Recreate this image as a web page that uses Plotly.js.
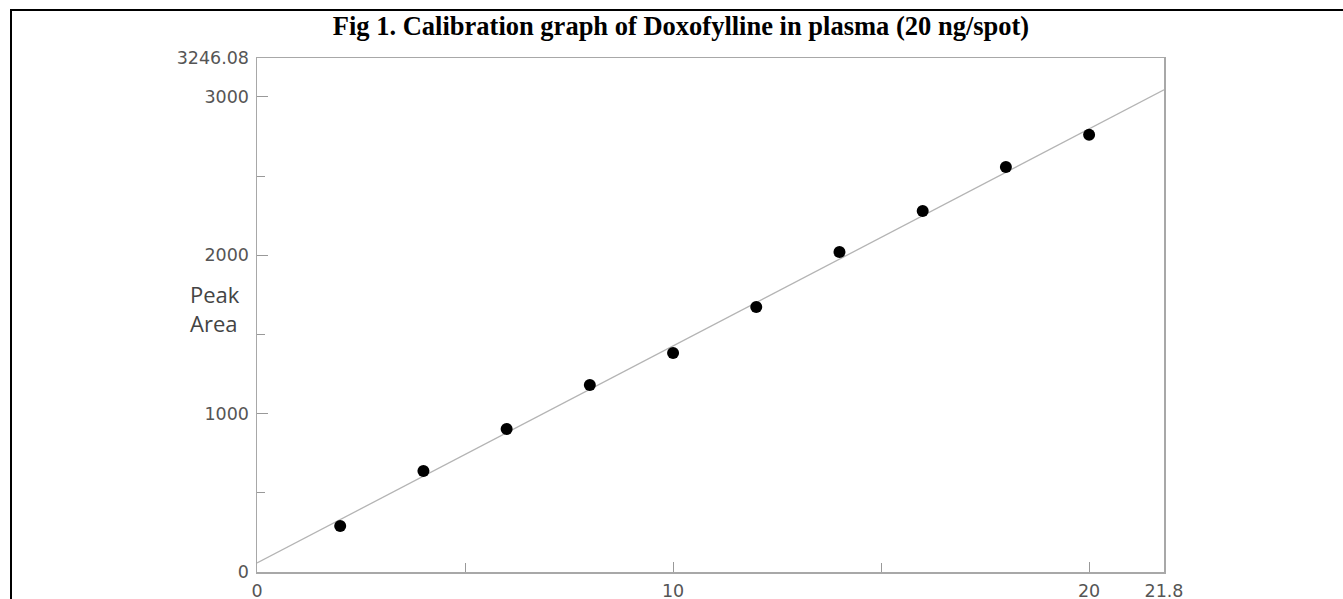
<!DOCTYPE html>
<html>
<head>
<meta charset="utf-8">
<script src="https://cdn.plot.ly/plotly-3.0.1.min.js"></script>
<style>
html,body{margin:0;padding:0;background:#fff;}
#chart{width:1343px;height:599px;}
</style>
</head>
<body>
<div id="chart"></div>
<script>
// Data
const concentration = [2, 4, 6, 8, 10, 12, 14, 16, 18, 20];
const peakArea = [291, 638, 903, 1181, 1383, 1674, 2021, 2280, 2558, 2761];
// Calibration line end points
const lineX = [0, 21.8];
const lineY = [57, 3045];
// Axis ticks
const xTickVals = [0, 10, 20, 21.8];
const xTickText = ['0', '10', '20', '21.8'];
const yTickVals = [0, 1000, 2000, 3000, 3246.08];
const yTickText = ['0', '1000', '2000', '3000', '3246.08'];
const xMinorTicks = [5, 15];
const yMinorTicks = [500, 1500, 2500];
const xRange = [0, 21.8];
const yRange = [0, 3246.08];
const titleText = 'Fig 1. Calibration graph of Doxofylline in plasma (20 ng/spot)';
const yLabel = 'Peak<br>Area';

const W = 1343, H = 599;
const M = {l: 257, r: 179, t: 58, b: 27};
const pw = W - M.l - M.r, ph = H - M.t - M.b;
const px2x = p => (p - M.l) / pw;
const py2y = p => (H - M.b - p) / ph;

const traces = [
  {
    x: lineX, y: lineY, mode: 'lines', type: 'scatter',
    line: {color: '#b4b4b4', width: 1.3}, hoverinfo: 'skip', showlegend: false
  },
  {
    x: concentration, y: peakArea, mode: 'markers', type: 'scatter',
    marker: {color: '#000', size: 12}, showlegend: false
  }
];

const tickFont = {family: 'DejaVu Sans, Arial, sans-serif', size: 17.5, color: '#555'};

const layout = {
  width: W, height: H,
  margin: M,
  paper_bgcolor: '#fff', plot_bgcolor: '#fff',
  showlegend: false,
  title: {
    text: '<b>' + titleText + '</b>',
    font: {family: 'Liberation Serif, Times New Roman, serif', size: 26.5, color: '#000'},
    x: 681 / W, xanchor: 'center', xref: 'container',
    y: 1 - 26 / H, yanchor: 'middle', yref: 'container'
  },
  xaxis: {
    range: xRange, showgrid: false, zeroline: false,
    showline: true, linecolor: '#a8a8a8', linewidth: 1.5, mirror: true,
    tickmode: 'array', tickvals: xTickVals, ticktext: xTickText,
    ticks: 'inside', ticklen: 10, tickcolor: '#999', tickwidth: 1,
    minor: {tickmode: 'array', tickvals: xMinorTicks, ticks: 'inside', ticklen: 9, tickcolor: '#999', tickwidth: 1, showgrid: false},
    tickfont: tickFont, ticklabelstandoff: 2, fixedrange: true
  },
  yaxis: {
    range: yRange, showgrid: false, zeroline: false,
    showline: true, linecolor: '#a8a8a8', linewidth: 1.5, mirror: true,
    tickmode: 'array', tickvals: yTickVals, ticktext: yTickText,
    ticks: 'inside', ticklen: 11, tickcolor: '#999', tickwidth: 1,
    minor: {tickmode: 'array', tickvals: yMinorTicks, ticks: 'inside', ticklen: 8, tickcolor: '#999', tickwidth: 1, showgrid: false},
    tickfont: tickFont, ticklabelstandoff: 3, fixedrange: true
  },
  annotations: [
    {
      text: yLabel, xref: 'paper', yref: 'paper',
      x: px2x(188), y: py2y(308), xanchor: 'left', yanchor: 'middle',
      align: 'left', showarrow: false,
      font: {family: 'Open Sans, Arial, sans-serif', size: 22, color: '#444'}
    }
  ],
  shapes: [
    {type: 'line', xref: 'paper', yref: 'paper', x0: px2x(10), x1: px2x(1343), y0: py2y(10), y1: py2y(10), line: {color: '#000', width: 2}},
    {type: 'line', xref: 'paper', yref: 'paper', x0: px2x(11), x1: px2x(11), y0: py2y(9), y1: py2y(599), line: {color: '#000', width: 2}}
  ]
};

Plotly.newPlot('chart', traces, layout, {displayModeBar: false, staticPlot: true});
</script>
</body>
</html>
